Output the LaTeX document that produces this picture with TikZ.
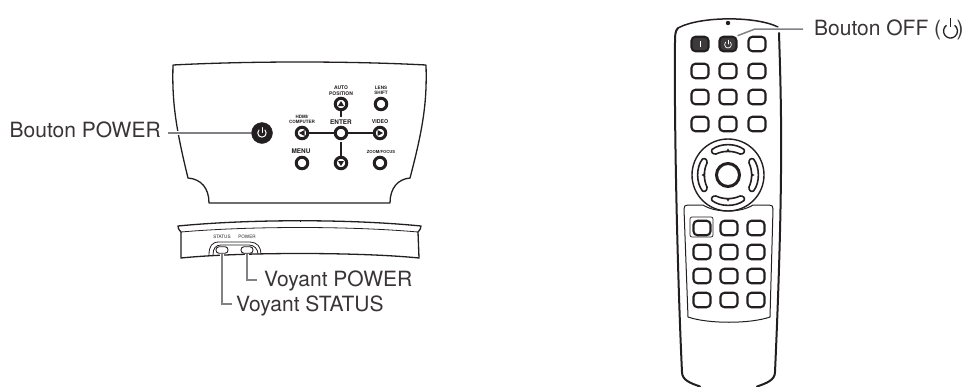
\documentclass[tikz,border=0pt]{standalone}
\usepackage{fontspec}
\setmainfont{TeX Gyre Heros}
\definecolor{ink}{HTML}{231F20}
\definecolor{lead}{HTML}{808285}
\newcommand{\lblsize}{\fontsize{21}{23}\selectfont}
\tikzset{
  x=1pt,y=-1pt,
  outl/.style={draw=ink,line width=1.3pt,line join=round,line cap=round},
  heavy/.style={draw=ink,line width=2pt,line join=round,line cap=round},
  thin outl/.style={draw=ink,line width=0.8pt},
  lbl/.style={text=ink!90,font=\lblsize,inner sep=0pt,anchor=base west},
  tiny/.style={text=ink,inner sep=0pt,align=center},
  pbtn/.style={circle,draw=ink,fill=white,line width=3pt,minimum size=11.5pt,inner sep=0pt},
  bigbtn/.style={circle,draw=ink,fill=ink,minimum size=21pt,inner sep=0pt},
  rbtn/.style={rectangle,rounded corners=4pt,draw=ink,fill=white,line width=2.1pt,minimum width=17pt,minimum height=14.5pt,inner sep=0pt},
  rfill/.style={rbtn,fill=ink!88},
  leader/.style={draw=lead,line width=1.5pt},
  halo/.style={draw=white,line width=4pt},
  wire/.style={draw=ink,line width=1.6pt},
  led/.style={rectangle,rounded corners=3pt,draw=ink,fill=white,line width=0.9pt,minimum width=12pt,minimum height=6.5pt,inner sep=0pt},
}
\begin{document}
\begin{tikzpicture}
\useasboundingbox (0,0) rectangle (966,386);
% upper control panel
\draw[outl] (173,65) .. controls (250,61) and (350,61) .. (426,65)
  .. controls (427,100) and (424,125) .. (410,178)
  .. controls (398,179) and (390,188) .. (390,203) -- (209,203)
  .. controls (209,188) and (201,179) .. (188,178)
  .. controls (175,125) and (172,100) .. (173,65);
% panel buttons
\node[bigbtn] (power) at (262,133) {};
\draw[white,line width=1pt,line cap=round] (259,130) arc[start angle=225,delta angle=-270,radius=4.2];
\draw[white,line width=1pt,line cap=round] (262,127.5) -- (262,132.5);
\foreach \n/\x/\y in {up/341/104,lens/381/104,left/302/133,enter/341/133,video/380/133,menu/302/163,down/341/163,zoomf/380/163}
  \node[pbtn] (\n) at (\x,\y) {};
\fill[ink] (341,101) -- (344,106) -- (338,106) -- cycle;
\fill[ink] (341,166) -- (344,161) -- (338,161) -- cycle;
\fill[ink] (299,133) -- (304.5,130) -- (304.5,136) -- cycle;
\fill[ink] (383,133) -- (377.5,130) -- (377.5,136) -- cycle;
\draw[wire] (left) -- (enter);
\draw[wire] (enter) -- (video);
\draw[wire,shorten <=1.5pt] (enter) -- (down);
\coordinate (upend) at (341,117);
\draw[wire] (up) -- (upend);
\node[tiny,font=\fontsize{5}{5.4}\selectfont\bfseries] (tauto) at (341,90.5) {AUTO\\POSITION};
\node[tiny,font=\fontsize{4.6}{5.4}\selectfont\bfseries] (tlens) at (381,90.5) {LENS\\SHIFT};
\node[tiny,font=\fontsize{4.5}{5.2}\selectfont\bfseries] (thdmi) at (302,119.5) {HDMI/\\COMPUTER};
\node[tiny,font=\fontsize{6.4}{7}\selectfont\bfseries] (tenter) at (341,122.5) {ENTER};
\node[tiny,font=\fontsize{5.3}{6}\selectfont\bfseries] (tvideo) at (380,122) {VIDEO};
\node[tiny,font=\fontsize{6.4}{7}\selectfont\bfseries] (tmenu) at (301,151) {MENU};
\node[tiny,font=\fontsize{4.2}{5}\selectfont\bfseries] (tzoom) at (381,152) {ZOOM/FOCUS};
% Bouton POWER
\node[lbl] (lpower) at (9.5,137) {Bouton POWER};
\coordinate (epower) at (168,133);
\draw[halo] (epower) -- (power.west);
\draw[leader] (epower) -- (power.west);
% lower front panel
\draw[outl] (181,232) .. controls (178,229) and (178,227) .. (178,226) .. controls (250,219) and (350,219) .. (421,226) .. controls (421,228) and (420,230) .. (418,232);
\draw[thin outl] (181,232) .. controls (250,226) and (350,226) .. (418,232);
\draw[thin outl] (300,220.5) -- (300,222);
\draw[outl] (181,232) -- (181,258) .. controls (240,252) and (360,252) .. (419,258) -- (418,232);
\draw[thin outl] (209,255) .. controls (209,246) and (212,242) .. (219,242) -- (250,242) .. controls (257,242) and (261,247) .. (261,254);
\draw[thin outl] (213,255) .. controls (213,248) and (216,245) .. (221,245) -- (249,245) .. controls (254,245) and (258,249) .. (258,254);
\node[led] (status) at (222,250) {};
\node[led] (pled) at (247,250) {};
\node[text=ink,font=\fontsize{4.6}{5}\selectfont,inner sep=0pt] (tstatus) at (222,237) {STATUS};
\node[text=ink,font=\fontsize{4.6}{5}\selectfont,inner sep=0pt] (tpower) at (247,237) {POWER};
\node[lbl] (lvp) at (264,286) {Voyant POWER};
\node[lbl] (lvs) at (236,311) {Voyant STATUS};
\coordinate (evp) at (257,280);
\coordinate (evs) at (232,304);
\draw[halo] (status.south) |- (evs);
\draw[leader] (status.south) |- (evs);
\draw[halo] (pled.south) |- (evp);
\draw[leader] (pled.south) |- (evp);
% remote body
\draw[heavy,line width=1.5pt] (678,28) .. controls (700,16) and (756,16) .. (778,27);
\draw[heavy] (678,28) .. controls (675,31) and (675,36) .. (675,42) .. controls (674,130) and (678,290) .. (682,372)
  .. controls (682,380) and (690,383) .. (700,386.5);
\draw[heavy] (779,33) .. controls (781,100) and (784,170) .. (775,372) .. controls (775,380) and (767,383) .. (757,386.5);
\fill[ink] (728,23) circle (2.2);
% remote top buttons
\foreach \r/\y in {2/71,3/97,4/124}
  \foreach \c/\x in {1/700,2/728,3/757}
    \node[rbtn] (b\r\c) at (\x,\y) {};
\node[rfill] (b11) at (700,44) {};
\node[rfill] (b12) at (728,44) {};
\node[rbtn] (b13) at (757,44) {};
\draw[white,line width=0.7pt] (700,41) -- (700,47);
\draw[white,line width=0.7pt,line cap=round] (725.6,42.2) arc[start angle=225,delta angle=-270,radius=3.4];
\draw[white,line width=0.7pt,line cap=round] (728,40.2) -- (728,44);
% d-pad
\node[circle,draw=ink,line width=1.4pt,minimum size=72pt,inner sep=0pt] (dpad) at (728,175) {};
\node[circle,draw=ink,line width=3pt,minimum size=23pt,inner sep=0pt] (dcen) at (728,175) {};
\foreach \a in {0,90,180,270}
  \draw[outl,line width=1.6pt,shift={(728,175)},rotate=\a] (-16,-25.5) .. controls (-8,-32) and (8,-32) .. (16,-25.5) .. controls (17.5,-23) and (15,-20.5) .. (12,-21) .. controls (5,-24.5) and (-5,-24.5) .. (-12,-21) .. controls (-15,-20.5) and (-17.5,-23) .. (-16,-25.5) -- cycle;
\fill[ink] (728,148.5) -- (730.2,152) -- (725.8,152) -- cycle;
\fill[ink] (728,201.5) -- (730.2,198) -- (725.8,198) -- cycle;
\fill[ink] (701.5,175) -- (705,172.8) -- (705,177.2) -- cycle;
\fill[ink] (754.5,175) -- (751,172.8) -- (751,177.2) -- cycle;
% lower keypad
\draw[outl,line width=1pt] (688,317) -- (684,209) .. controls (684,206) and (685,205) .. (688,205) -- (703,205) .. controls (715,213) and (741,213) .. (753,205) -- (769,205) .. controls (772,205) and (773,206) .. (773,209) -- (770,317) .. controls (750,324) and (708,324) .. (688,317);
\foreach \r/\y in {1/228,2/252,3/276,4/300}
  \foreach \c/\x in {1/702,2/729,3/756}
    \node[rbtn] (k\r\c) at (\x,\y) {};
\draw[draw=ink,line width=0.7pt,rounded corners=2pt] (690,217) rectangle (713,237);
% Bouton OFF
\node[lbl] (loff) at (814,35) {Bouton OFF (\hspace{15.5pt})};
\coordinate (eoff) at (803,29);
\coordinate (bend) at (755,29);
\draw[halo,line width=3pt] (eoff) -- (bend) -- (b12.north east);
\draw[leader] (eoff) -- (bend) -- (b12.north east);
\draw[ink,line width=1.3pt] (946.5,25.3) arc[start angle=235,delta angle=-290,radius=7];
\draw[ink,line width=1.3pt] (950.5,17.5) -- (950.5,27);
\end{tikzpicture}
\end{document}
